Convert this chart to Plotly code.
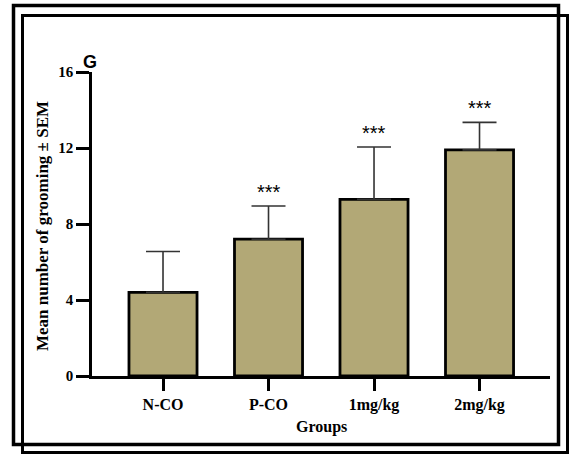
import plotly.graph_objects as go

groups = ["N-CO", "P-CO", "1mg/kg", "2mg/kg"]
means = [4.4, 7.2, 9.3, 11.9]
sem = [2.15, 1.75, 2.75, 1.45]
signif = ["", "***", "***", "***"]
y_ticks = [0, 4, 8, 12, 16]

W, H = 570, 454
L, R, T, B = 92, 20, 72, 78
pw, ph = W - L - R, H - T - B

def px(x):
    return (x - L) / pw

def py(y):
    return (H - B - y) / ph

fig = go.Figure()
fig.add_trace(go.Bar(
    x=groups, y=means, width=0.645,
    marker=dict(color="rgb(178,168,118)", line=dict(color="black", width=2.8)),
    error_y=dict(type="data", array=sem, arrayminus=[0] * len(sem), symmetric=False,
                 color="#333333", thickness=1.6, width=17),
    showlegend=False,
))

annotations = []
for g, m, s, t in zip(groups, means, sem, signif):
    if t:
        annotations.append(dict(x=g, y=m + s, text=t, showarrow=False, yanchor="bottom",
                                xanchor="center", yshift=1,
                                font=dict(family="Arial", size=20, color="black")))

annotations.append(dict(x=px(90), y=py(62), xref="paper", yref="paper", text="<b>G</b>",
                        xanchor="center", yanchor="middle",
                        showarrow=False, font=dict(family="Arial", size=18, color="black")))
annotations.append(dict(x=px(42), y=py(226), xref="paper", yref="paper",
                        text="<b>Mean number of grooming ± SEM</b>", textangle=-90,
                        xanchor="center", yanchor="middle",
                        showarrow=False, font=dict(family="Liberation Serif", size=17, color="black")))
annotations.append(dict(x=px(321), y=py(427), xref="paper", yref="paper",
                        text="<b>Groups</b>", showarrow=False, xanchor="center", yanchor="middle",
                        font=dict(family="Liberation Serif", size=16, color="black")))

shapes = [
    dict(type="rect", xref="paper", yref="paper", x0=px(13.5), x1=px(558.5), y0=py(5.5), y1=py(444.5),
         line=dict(color="black", width=3.5)),
    dict(type="rect", xref="paper", yref="paper", x0=px(22.5), x1=px(567.5), y0=py(15.5), y1=py(452.5),
         line=dict(color="black", width=3)),
]

fig.update_layout(
    width=W, height=H,
    margin=dict(l=L, r=R, t=T, b=B),
    paper_bgcolor="white", plot_bgcolor="white",
    annotations=annotations, shapes=shapes,
    font=dict(family="Liberation Serif", color="black"),
)
fig.update_xaxes(
    range=[-0.673, 3.668], showline=True, linecolor="black", linewidth=2.5,
    ticks="outside", ticklen=12, tickwidth=2.5, tickcolor="black",
    tickfont=dict(family="Liberation Serif", size=16, color="black"),
    tickprefix="<b>", ticksuffix="</b>", showgrid=False, zeroline=False,
)
fig.update_yaxes(
    range=[0, 16], tickvals=y_ticks, ticktext=[f"<b>{v}</b>" for v in y_ticks],
    showline=True, linecolor="black", linewidth=2.5,
    ticks="outside", ticklen=13, tickwidth=2.5, tickcolor="black",
    tickfont=dict(family="Liberation Serif", size=15, color="black"),
    showgrid=False, zeroline=False,
)

fig.write_html("out.html", config={"displayModeBar": False},
               post_script="document.body.style.margin='0px';")
